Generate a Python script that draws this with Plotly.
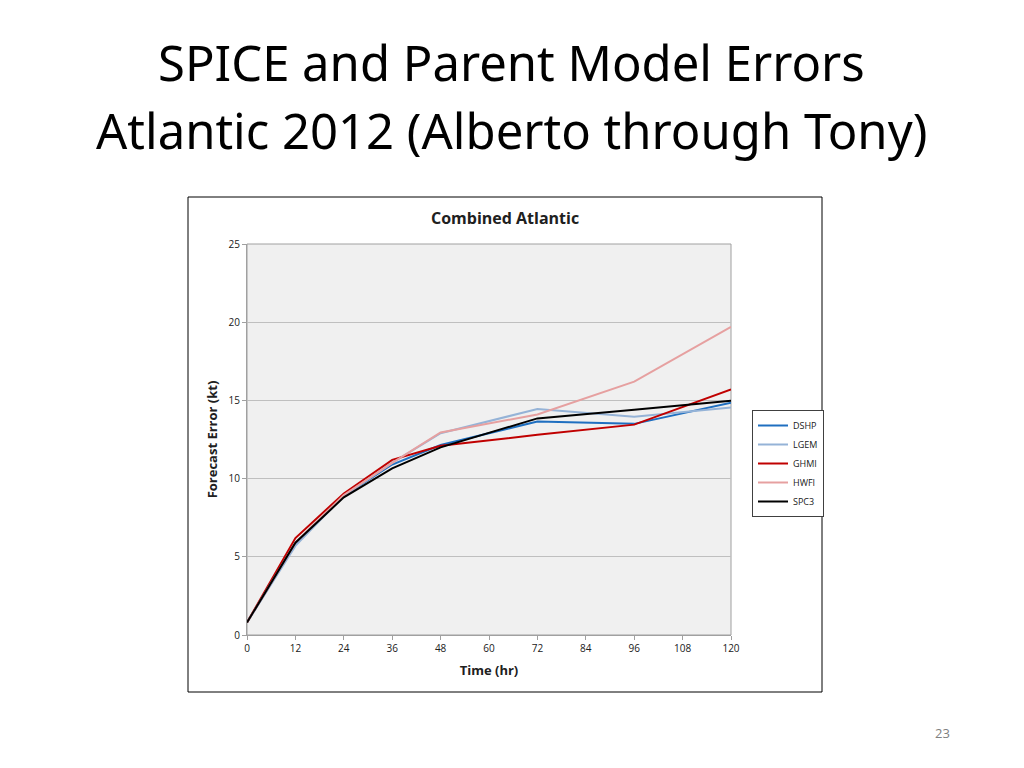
import plotly.graph_objects as go

hours = [0, 12, 24, 36, 48, 72, 96, 120]
series_names = ["DSHP", "LGEM", "GHMI", "HWFI", "SPC3"]
dshp = [0.8, 5.8, 8.9, 10.9, 12.15, 13.65, 13.5, 14.85]
lgem = [0.8, 5.7, 8.9, 11.0, 12.9, 14.45, 13.95, 14.55]
ghmi = [0.8, 6.2, 9.05, 11.2, 12.1, 12.8, 13.45, 15.7]
hwfi = [0.8, 5.9, 8.95, 11.0, 12.95, 14.1, 16.2, 19.7]
spc3 = [0.8, 5.9, 8.8, 10.65, 12.0, 13.85, 14.4, 14.98]
series_values = [dshp, lgem, ghmi, hwfi, spc3]
colors = ["#1f6fc0", "#95b3d7", "#c00000", "#e6a0a0", "#000000"]

x_ticks = [0, 12, 24, 36, 48, 60, 72, 84, 96, 108, 120]
y_ticks = [0, 5, 10, 15, 20, 25]

# page body has an 8px margin; size the figure so it fits the window
OFF = 8
W, H = 1024 - 2 * OFF, 768 - 2 * OFF
fig = go.Figure()
for name, vals, col in zip(series_names, series_values, colors):
    fig.add_trace(go.Scatter(x=hours, y=vals, mode="lines", name=name,
                             line=dict(color=col, width=2)))

def px(x):
    return (x - OFF) / W

def py(y):
    return 1 - (y - OFF) / H

fig.update_layout(
    width=W, height=H,
    margin=dict(l=0, r=0, t=0, b=0, autoexpand=False),
    paper_bgcolor="white",
    plot_bgcolor="#f0f0f0",
    font=dict(family="Open Sans, Noto Sans, sans-serif", color="#404040"),
    showlegend=True,
    legend=dict(x=px(752), y=py(410), xanchor="left", yanchor="top",
                bgcolor="white", bordercolor="#404040", borderwidth=1,
                font=dict(size=9, color="#202020"),
                tracegroupgap=0, itemwidth=30),
    xaxis=dict(domain=[px(247), px(731)], range=[0, 120], tickvals=x_ticks,
               automargin=False,
               showgrid=False, zeroline=False, showline=True, linecolor="#a0a0a0",
               ticks="outside", ticklen=4, tickcolor="#a0a0a0",
               tickfont=dict(size=10, color="#202020"),
               title=dict(text="<b>Time (hr)</b>", font=dict(size=13, color="#202020"), standoff=11)),
    yaxis=dict(domain=[py(635), py(244)], range=[0, 25], tickvals=y_ticks,
               automargin=False,
               showgrid=True, gridcolor="#bfbfbf", gridwidth=1, zeroline=False,
               showline=True, linecolor="#a0a0a0",
               ticks="outside", ticklen=4, tickcolor="#a0a0a0",
               tickfont=dict(size=10, color="#202020"),
               title=dict(text="<b>Forecast Error (kt)</b>", font=dict(size=13, color="#202020"), standoff=8)),
)

# chart outer frame
fig.add_shape(type="rect", xref="paper", yref="paper",
              x0=px(188), x1=px(822), y0=py(692), y1=py(197),
              line=dict(color="#000000", width=1), fillcolor="rgba(0,0,0,0)", layer="below")
# plot area border
fig.add_shape(type="rect", xref="paper", yref="paper",
              x0=px(247), x1=px(731), y0=py(635), y1=py(244),
              line=dict(color="#a0a0a0", width=1), fillcolor="rgba(0,0,0,0)", layer="below")

fig.add_annotation(text="<b>Combined Atlantic</b>", xref="paper", yref="paper",
                   x=px(505), y=py(218), yanchor="middle", showarrow=False,
                   font=dict(size=16, color="#202020"))
fig.add_annotation(text="SPICE and Parent Model Errors",
                   xref="paper", yref="paper", x=px(511), y=py(62), yanchor="middle",
                   showarrow=False,
                   font=dict(size=49, color="#000000", family="Noto Sans, sans-serif"))
fig.add_annotation(text="Atlantic 2012 (Alberto through Tony)",
                   xref="paper", yref="paper", x=px(511), y=py(130), yanchor="middle",
                   showarrow=False,
                   font=dict(size=49, color="#000000", family="Noto Sans, sans-serif"))
fig.add_annotation(text="23", xref="paper", yref="paper", x=px(952), y=py(733),
                   yanchor="middle", showarrow=False, font=dict(size=13, color="#808080"))

fig.write_html("out.html")
